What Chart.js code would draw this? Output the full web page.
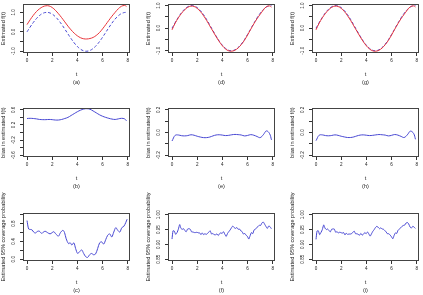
<!DOCTYPE html>
<html lang="en">
<head>
<meta charset="UTF-8" />
<title>Estimated f(t), bias and coverage</title>
<style>
  body { margin: 0; background: #fff; }
  #wrap { position: relative; width: 423px; height: 295px; overflow: hidden; }
  canvas { position: absolute; }
</style>
</head>
<body>
<div id="wrap"></div>
<script src="https://cdn.jsdelivr.net/npm/chart.js"></script>
<script>
// grid for the smooth curves
const tGrid = [0,0.25,0.5,0.75,1,1.25,1.5,1.75,2,2.25,2.5,2.75,3,3.25,3.5,3.75,4,4.25,4.5,4.75,5,5.25,5.5,5.75,6,6.25,6.5,6.75,7,7.25,7.5,7.75,7.9];
// true function (blue dashed)
const trueF = [0,0.247,0.479,0.682,0.841,0.949,0.997,0.984,0.909,0.778,0.598,0.382,0.141,-0.108,-0.351,-0.572,-0.757,-0.895,-0.978,-0.999,-0.959,-0.859,-0.706,-0.510,-0.279,-0.033,0.215,0.450,0.657,0.823,0.938,0.995,0.999];
// estimates (red)
const estA = [0.37,0.622,0.849,1.042,1.186,1.289,1.337,1.329,1.249,1.108,0.928,0.727,0.511,0.292,0.099,-0.072,-0.207,-0.305,-0.358,-0.369,-0.344,-0.289,-0.186,-0.040,0.151,0.367,0.590,0.805,1.002,1.183,1.313,1.355,1.31];
const estD = [-0.075,0.222,0.457,0.654,0.811,0.922,0.977,0.960,0.876,0.738,0.553,0.337,0.101,-0.138,-0.373,-0.592,-0.780,-0.922,-1.003,-1.019,-0.976,-0.878,-0.728,-0.540,-0.305,-0.052,0.191,0.415,0.612,0.803,0.952,0.985,0.934];
const estG = [-0.072,0.223,0.458,0.655,0.812,0.923,0.976,0.959,0.876,0.739,0.554,0.338,0.102,-0.138,-0.374,-0.593,-0.781,-0.922,-1.003,-1.020,-0.977,-0.879,-0.729,-0.540,-0.304,-0.051,0.192,0.416,0.613,0.802,0.950,0.987,0.939];
// bias
const biasB = [0.37,0.375,0.37,0.36,0.345,0.34,0.34,0.345,0.34,0.33,0.33,0.345,0.37,0.40,0.45,0.50,0.55,0.59,0.62,0.63,0.615,0.57,0.52,0.47,0.43,0.40,0.375,0.355,0.345,0.36,0.375,0.36,0.31];
const biasE = [-0.075,-0.025,-0.022,-0.028,-0.030,-0.027,-0.020,-0.024,-0.033,-0.040,-0.045,-0.045,-0.040,-0.030,-0.022,-0.020,-0.023,-0.027,-0.025,-0.020,-0.017,-0.019,-0.022,-0.030,-0.026,-0.019,-0.024,-0.035,-0.045,-0.020,0.014,-0.010,-0.065];
const biasH = [-0.072,-0.024,-0.021,-0.027,-0.029,-0.026,-0.021,-0.025,-0.033,-0.039,-0.044,-0.044,-0.039,-0.030,-0.023,-0.021,-0.024,-0.027,-0.025,-0.021,-0.018,-0.020,-0.023,-0.030,-0.025,-0.018,-0.023,-0.034,-0.044,-0.021,0.012,-0.008,-0.060];
// coverage
const tCovC = [0,0.13,0.27,0.4,0.53,0.66,0.85,0.98,1.17,1.3,1.44,1.62,1.83,2.0,2.13,2.31,2.5,2.66,2.85,2.98,3.11,3.3,3.43,3.56,3.72,3.86,4.02,4.18,4.34,4.5,4.65,4.81,4.97,5.13,5.29,5.45,5.61,5.77,5.93,6.09,6.25,6.41,6.57,6.73,6.89,7.05,7.21,7.37,7.53,7.69,7.85,7.95];
const covC = [0.87,0.68,0.67,0.66,0.61,0.59,0.63,0.63,0.58,0.61,0.63,0.60,0.57,0.60,0.62,0.56,0.52,0.60,0.65,0.60,0.46,0.35,0.37,0.32,0.37,0.24,0.13,0.17,0.21,0.13,0.06,0.04,0.10,0.13,0.10,0.12,0.24,0.37,0.39,0.34,0.44,0.54,0.57,0.50,0.61,0.71,0.65,0.61,0.71,0.74,0.83,0.90];
const tCovF = [0,0.08,0.18,0.29,0.4,0.5,0.61,0.71,0.82,0.92,1.03,1.13,1.24,1.35,1.45,1.56,1.66,1.77,1.87,1.98,2.08,2.19,2.3,2.4,2.5,2.61,2.72,2.82,2.93,3.03,3.14,3.25,3.35,3.46,3.56,3.67,3.77,3.88,3.98,4.09,4.2,4.3,4.41,4.51,4.62,4.72,4.83,4.93,5.04,5.15,5.25,5.36,5.46,5.57,5.67,5.78,5.88,5.99,6.1,6.2,6.31,6.41,6.52,6.62,6.73,6.83,6.94,7.04,7.15,7.26,7.36,7.47,7.57,7.68,7.78,7.89];
const covF = [0.918,0.946,0.945,0.934,0.940,0.951,0.967,0.954,0.951,0.953,0.946,0.943,0.952,0.953,0.951,0.942,0.942,0.940,0.940,0.941,0.939,0.939,0.933,0.939,0.933,0.936,0.934,0.937,0.942,0.946,0.935,0.937,0.933,0.932,0.936,0.930,0.936,0.939,0.937,0.943,0.934,0.927,0.937,0.943,0.949,0.956,0.962,0.957,0.954,0.957,0.951,0.952,0.946,0.943,0.935,0.937,0.931,0.927,0.918,0.929,0.940,0.936,0.949,0.951,0.957,0.960,0.965,0.964,0.973,0.975,0.968,0.960,0.954,0.962,0.960,0.953];
const covI = [0.917,0.945,0.946,0.933,0.941,0.950,0.966,0.955,0.950,0.952,0.947,0.942,0.951,0.952,0.952,0.941,0.943,0.939,0.941,0.940,0.938,0.940,0.932,0.938,0.934,0.935,0.935,0.936,0.941,0.945,0.936,0.936,0.934,0.931,0.937,0.931,0.935,0.940,0.936,0.942,0.935,0.928,0.936,0.944,0.950,0.957,0.961,0.958,0.953,0.956,0.952,0.951,0.947,0.942,0.936,0.936,0.932,0.926,0.919,0.930,0.939,0.937,0.948,0.952,0.956,0.961,0.964,0.965,0.972,0.974,0.969,0.959,0.955,0.961,0.959,0.954];

const xTicks = [0,2,4,6,8];
const RED = '#e8343a', BLUE = '#4646d2';

const colLeft = [23, 168, 312];
const rowTop = [4, 108, 213];
const rowH = [49, 49, 48];
const rowPadT = [4, 4, 26];
const boxW = 107;

const panels = [
  { cap:'(a)', c:0, r:0, ymin:-1.09, ymax:1.43, yt:[-1,-0.5,0,0.5,1], yl:[-1,0,1], dec:1, title:'Estimated f(t)',
    lines:[{x:tGrid,y:estA,col:RED},{x:tGrid,y:trueF,col:BLUE,dash:[3,2]}] },
  { cap:'(d)', c:1, r:0, ymin:-1.10, ymax:1.07, yt:[-1,-0.5,0,0.5,1], yl:[-1,0,1], dec:1, title:'Estimated f(t)',
    lines:[{x:tGrid,y:estD,col:RED},{x:tGrid,y:trueF,col:BLUE,dash:[3,2]}] },
  { cap:'(g)', c:2, r:0, ymin:-1.10, ymax:1.07, yt:[-1,-0.5,0,0.5,1], yl:[-1,0,1], dec:1, title:'Estimated f(t)',
    lines:[{x:tGrid,y:estG,col:RED},{x:tGrid,y:trueF,col:BLUE,dash:[3,2]}] },
  { cap:'(b)', c:0, r:1, ymin:-0.648, ymax:0.648, yt:[-0.6,-0.4,-0.2,0,0.2,0.4,0.6], yl:[-0.6,-0.2,0.2,0.6], dec:1, title:'bias in estimated f(t)',
    lines:[{x:tGrid,y:biasB,col:BLUE}] },
  { cap:'(e)', c:1, r:1, ymin:-0.216, ymax:0.216, yt:[-0.2,-0.1,0,0.1,0.2], yl:[-0.2,0,0.2], dec:1, title:'bias in estimated f(t)',
    lines:[{x:tGrid,y:biasE,col:BLUE}] },
  { cap:'(h)', c:2, r:1, ymin:-0.216, ymax:0.216, yt:[-0.2,-0.1,0,0.1,0.2], yl:[-0.2,0,0.2], dec:1, title:'bias in estimated f(t)',
    lines:[{x:tGrid,y:biasH,col:BLUE}] },
  { cap:'(c)', c:0, r:2, ymin:-0.04, ymax:1.04, yt:[0,0.2,0.4,0.6,0.8,1.0], yl:[0,0.4,0.8], dec:1, title:'Estimated 95% coverage probability',
    lines:[{x:tCovC,y:covC,col:BLUE,ten:0.3}] },
  { cap:'(f)', c:1, r:2, ymin:0.844, ymax:1.006, yt:[0.85,0.9,0.95,1.0], yl:[0.85,0.9,0.95,1.0], dec:2, title:'Estimated 95% coverage probability',
    lines:[{x:tCovF,y:covF,col:BLUE,ten:0.2}] },
  { cap:'(i)', c:2, r:2, ymin:0.844, ymax:1.006, yt:[0.85,0.9,0.95,1.0], yl:[0.85,0.9,0.95,1.0], dec:2, title:'Estimated 95% coverage probability',
    lines:[{x:tCovF,y:covI,col:BLUE,ten:0.2}] }
];

const FONT = '"Liberation Sans", Arial, sans-serif';
const wrap = document.getElementById('wrap');

panels.forEach(p => {
  const bl = colLeft[p.c], bt = rowTop[p.r], bh = rowH[p.r];
  const padL = 23, padT = rowPadT[p.r], padR = 5;
  const below = p.r === 2 ? 34 : 38;
  const W = padL + boxW + padR, H = padT + bh + below;
  const cv = document.createElement('canvas');
  cv.width = W; cv.height = H;
  cv.style.left = (bl - padL) + 'px';
  cv.style.top = (bt - padT) + 'px';
  wrap.appendChild(cv);

  const deco = {
    id: 'deco',
    afterDraw(chart) {
      const ctx = chart.ctx, a = chart.chartArea, ys = chart.scales.y;
      ctx.save();
      ctx.strokeStyle = '#444';
      ctx.lineWidth = 1;
      ctx.strokeRect(a.left + 0.5, a.top + 0.5, a.right - a.left - 1, a.bottom - a.top - 1);
      ctx.fillStyle = '#222';
      ctx.textAlign = 'center';
      ctx.textBaseline = 'middle';
      // y tick labels, rotated like R
      ctx.font = '4.6px ' + FONT;
      p.yl.forEach(v => {
        const y = ys.getPixelForValue(v);
        ctx.save();
        ctx.translate(a.left - 9.5, y);
        ctx.rotate(-Math.PI / 2);
        ctx.fillText(v.toFixed(p.dec), 0, 0);
        ctx.restore();
      });
      ctx.font = '5.6px ' + FONT;
      ctx.save();
      ctx.translate(a.left - 20, (a.top + a.bottom) / 2);
      ctx.rotate(-Math.PI / 2);
      ctx.fillText(p.title, 0, 0);
      ctx.restore();
      const cx = (a.left + a.right) / 2;
      ctx.fillText('t', cx, a.bottom + 21);
      ctx.fillText(p.cap, cx, a.bottom + 29);
      ctx.restore();
    }
  };

  new Chart(cv.getContext('2d'), {
    type: 'line',
    data: {
      datasets: p.lines.map(l => ({
        data: l.x.map((t, i) => ({ x: t, y: l.y[i] })),
        borderColor: l.col,
        borderWidth: 1,
        borderDash: l.dash || [],
        pointRadius: 0,
        tension: l.ten !== undefined ? l.ten : 0.4,
        fill: false
      }))
    },
    options: {
      responsive: false,
      animation: false,
      devicePixelRatio: 1,
      layout: { padding: { left: 0, top: padT, right: padR, bottom: 0 } },
      plugins: { legend: { display: false }, tooltip: { enabled: false } },
      scales: {
        x: {
          type: 'linear', min: -0.32, max: 8.18,
          afterBuildTicks: s => { s.ticks = xTicks.map(v => ({ value: v })); },
          afterFit: s => { s.height = below; },
          grid: { drawOnChartArea: false, drawTicks: true, tickLength: 3, color: '#333' },
          border: { display: false },
          ticks: { color: '#222', padding: 1.5, font: { size: 4.6, family: FONT }, maxRotation: 0, autoSkip: false }
        },
        y: {
          type: 'linear', min: p.ymin, max: p.ymax,
          afterBuildTicks: s => { s.ticks = p.yt.map(v => ({ value: v })); },
          afterFit: s => { s.width = padL; },
          grid: { drawOnChartArea: false, drawTicks: true, tickLength: 3, color: '#333' },
          border: { display: false },
          ticks: { display: false }
        }
      }
    },
    plugins: [deco]
  });
});
</script>
</body>
</html>
